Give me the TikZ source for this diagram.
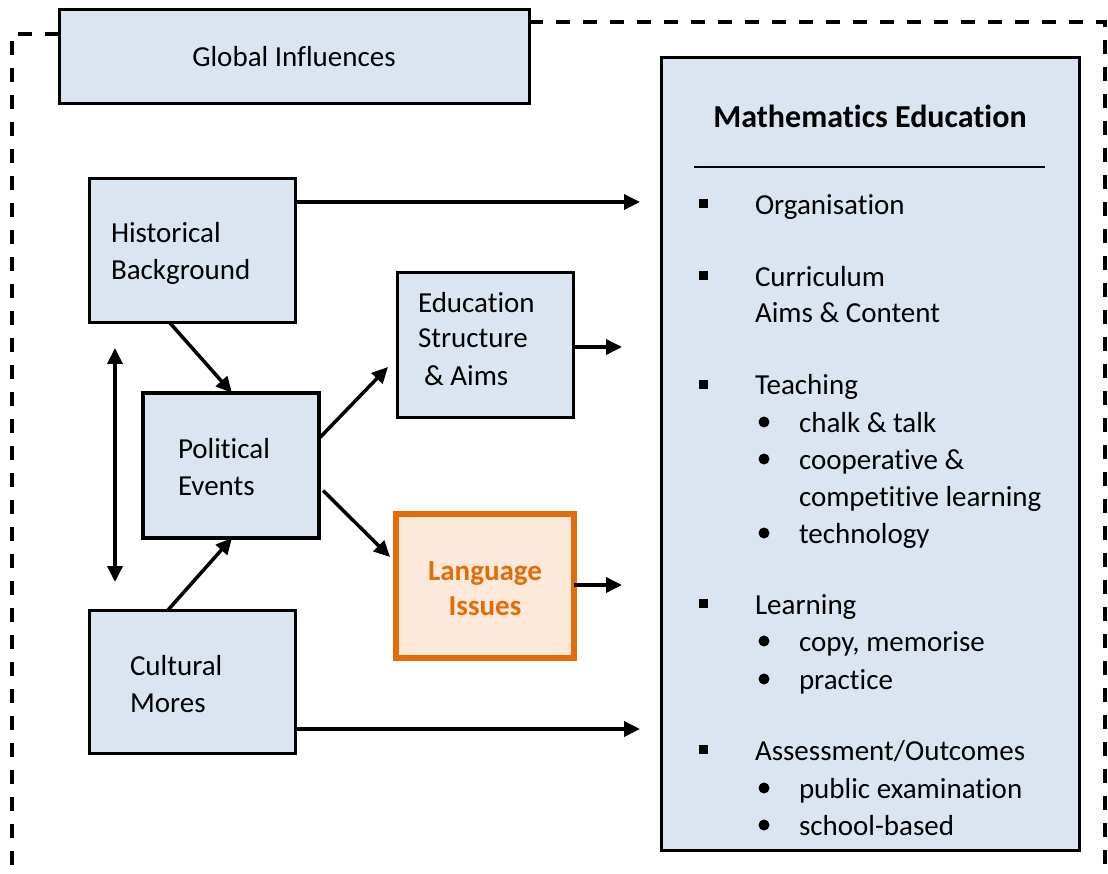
\documentclass[tikz,border=0pt]{standalone}
\usepackage{fontspec}
\setmainfont{Carlito}[Ligatures=NoCommon]
\usetikzlibrary{arrows.meta}
\definecolor{boxblue}{HTML}{DBE5F1}
\definecolor{issueorange}{HTML}{E36C09}
\definecolor{issuefill}{HTML}{FDE9D9}
\begin{document}
\begin{tikzpicture}[x=1pt,y=-1pt,
  every node/.style={font=\fontsize{29}{36}\selectfont, inner sep=0pt, outer sep=0pt},
  box/.style={draw=black, line width=3pt, fill=boxblue, rectangle},
  txt/.style={anchor=base west},
  ctxt/.style={anchor=base},
  arr/.style={line width=3.5pt, -{Triangle[length=16pt,width=15pt]}},
  dblarr/.style={line width=3.5pt, {Triangle[length=16pt,width=15pt]}-{Triangle[length=16pt,width=15pt]}},
  frame/.style={line width=3.5pt, dash pattern=on 14pt off 13pt},
  sqbullet/.style={fill=black, minimum size=9pt, rectangle},
  rdbullet/.style={fill=black, minimum size=11pt, circle}]
\useasboundingbox (0,0) rectangle (1108,874);

% boxes
\node[box, minimum width=470, minimum height=94] (global) at (294,57) {Global Influences};
\node[box, minimum width=418, minimum height=792] (math) at (870,454) {};
\node[box, minimum width=206, minimum height=144] (hist) at (192,251) {};
\node[box, minimum width=176, minimum height=144] (edu) at (485,345) {};
\node[box, line width=4.5pt, minimum width=176, minimum height=145] (pol) at (231,465.5) {};
\node[draw=issueorange, fill=issuefill, line width=5.5pt, minimum width=178, minimum height=144] (lang) at (485,586) {};
\node[box, minimum width=206, minimum height=143] (cult) at (192,681.5) {};

% dashed frame around the influences
\draw[frame] (global.west |- 0,34) -- (12,34) -- (12,880);
\draw[frame] (global.east |- 0,22) -- (1105,22) -- (1105,880);

% box texts
\node[txt] (histA) at (111,243) {Historical};
\node[txt] (histB) at (111,280) {Background};
\node[txt] (eduA) at (418,313) {Education};
\node[txt] (eduB) at (418,348) {Structure};
\node[txt] (eduC) at (424,385) {\& Aims};
\node[txt] (polA) at (178,458) {Political};
\node[txt] (polB) at (178,495) {Events};
\node[ctxt, font=\fontsize{29}{36}\selectfont\bfseries, text=issueorange] (langA) at (485,580) {Language};
\node[ctxt, font=\fontsize{29}{36}\selectfont\bfseries, text=issueorange] (langB) at (485,615) {Issues};
\node[txt] (cultA) at (130,675) {Cultural};
\node[txt] (cultB) at (130,712) {Mores};

% mathematics education panel
\node[ctxt, font=\fontsize{32}{38}\selectfont\bfseries] (mtitle) at (870,128) {Mathematics Education};
\draw[line width=1.5pt] (694,167) -- (1045,167);

\node[sqbullet] (s1) at (703,204) {};
\node[txt] (m1) at (755,215) {Organisation};
\node[sqbullet] (s2) at (703,276) {};
\node[txt] (m2) at (755,287) {Curriculum};
\node[txt] (m2b) at (755,323) {Aims \& Content};
\node[sqbullet] (s3) at (703,384) {};
\node[txt] (m3) at (755,395) {Teaching};
\node[rdbullet] (b31) at (764,422) {};
\node[txt] (m31) at (799,432) {chalk \& talk};
\node[rdbullet] (b32) at (764,459) {};
\node[txt] (m32) at (799,469) {cooperative \&};
\node[txt] (m32b) at (799,506) {competitive learning};
\node[rdbullet] (b33) at (764,533) {};
\node[txt] (m33) at (799,543) {technology};
\node[sqbullet] (s4) at (703,603) {};
\node[txt] (m4) at (755,614) {Learning};
\node[rdbullet] (b41) at (764,641) {};
\node[txt] (m41) at (799,651) {copy, memorise};
\node[rdbullet] (b42) at (764,679) {};
\node[txt] (m42) at (799,689) {practice};
\node[sqbullet] (s5) at (703,749) {};
\node[txt] (m5) at (755,760) {Assessment/Outcomes};
\node[rdbullet] (b51) at (764,788) {};
\node[txt] (m51) at (799,798) {public examination};
\node[rdbullet] (b52) at (764,825) {};
\node[txt] (m52) at (799,835) {school-based};

% arrow ends in open space
\coordinate (toOrg) at (640,202);
\coordinate (toAss) at (640,729);
\coordinate (eduOut) at (622,347);
\coordinate (langOut) at (622,585);
\coordinate (cycTop) at (115,348);
\coordinate (cycBot) at (115,582);

% connectors
\draw[arr] (hist.east |- toOrg) -- (toOrg);
\draw[arr] (cult.east |- toAss) -- (toAss);
\draw[arr] ([xshift=-22pt]hist.south) -- ([xshift=1pt]pol.north);
\draw[arr] ([xshift=-24pt]cult.north) -- ([xshift=1pt]pol.south);
\draw[dblarr] (cycTop) -- (cycBot);
\draw[arr] ([yshift=27pt]pol.east) -- ([xshift=-9pt,yshift=-22pt]edu.west);
\draw[arr] ([xshift=4pt,yshift=-25pt]pol.east) -- ([xshift=-6pt,yshift=29pt]lang.west);
\draw[arr] (edu.east |- eduOut) -- (eduOut);
\draw[arr] (lang.east |- langOut) -- (langOut);
\end{tikzpicture}
\end{document}
